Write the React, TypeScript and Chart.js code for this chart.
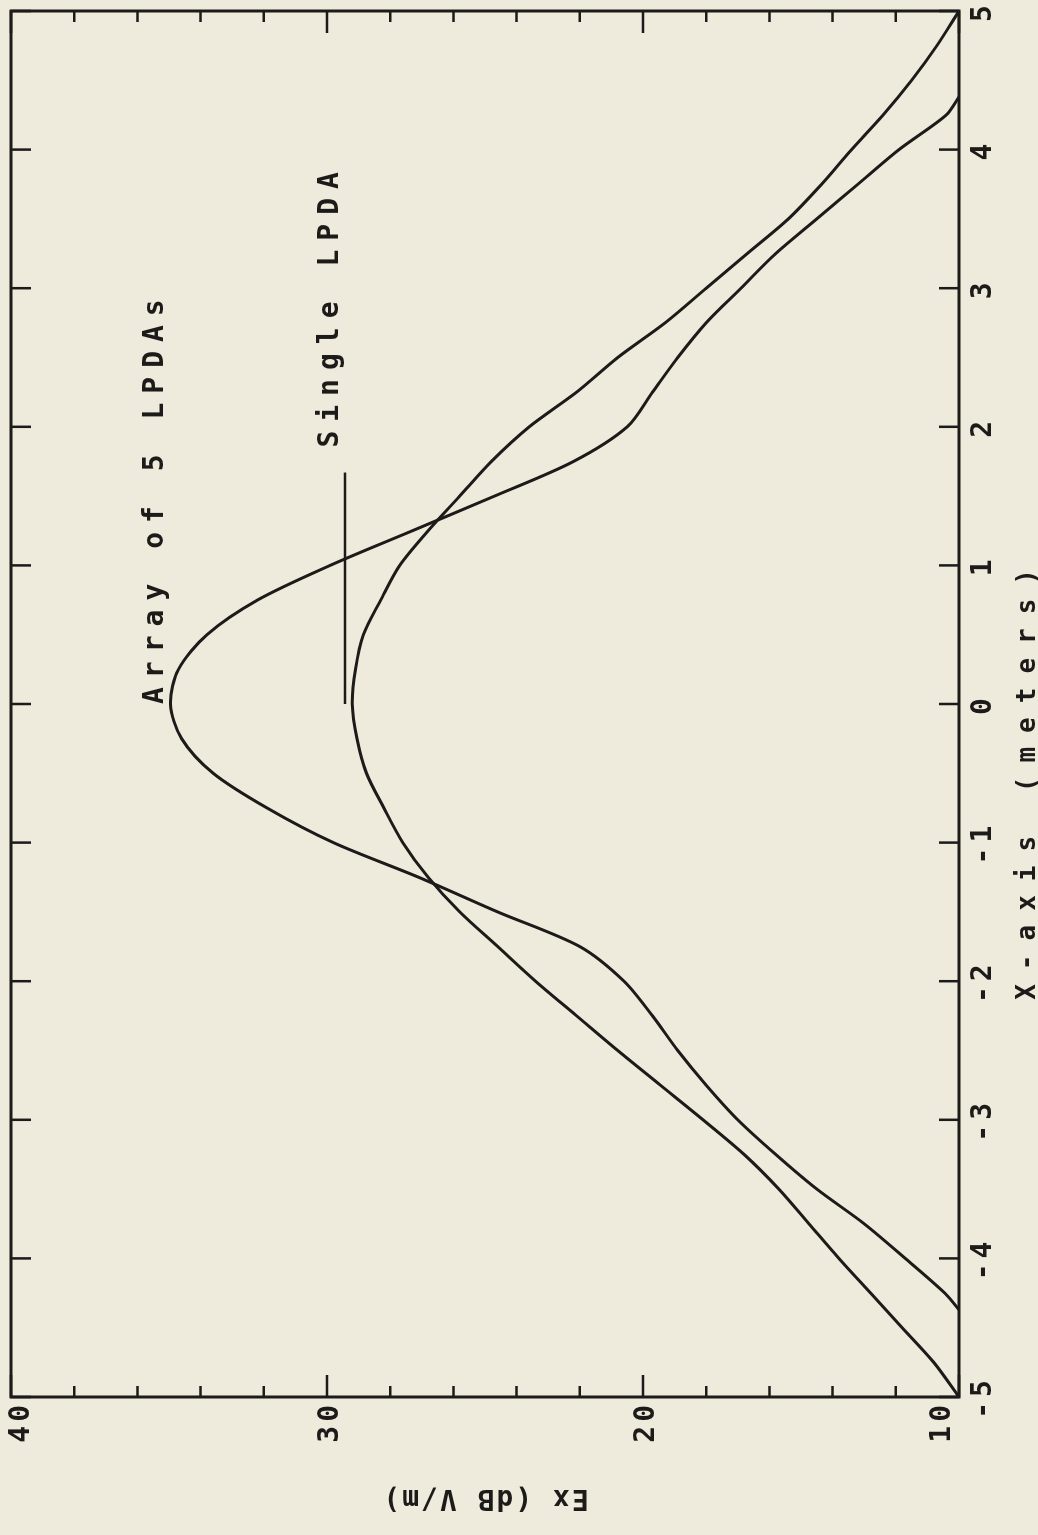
import React, { useEffect, useRef } from 'react';
import { Chart, registerables } from 'chart.js';

Chart.register(...registerables);

// ---- data (X position in metres, Ex in dB V/m) ----
const singleX = [
  -5, -4.75, -4.5, -4.25, -4, -3.75, -3.5, -3.25, -3, -2.75, -2.5, -2.25, -2, -1.75, -1.5, -1.25, -1, -0.75, -0.5, -0.25,
  0, 0.25, 0.5, 0.75, 1, 1.25, 1.5, 1.75, 2, 2.25, 2.5, 2.75, 3, 3.25, 3.5, 3.75, 4, 4.25, 4.5, 4.75, 5,
];
const singleLPDA = [
  10.0, 10.8, 11.8, 12.8, 13.8, 14.75, 15.7, 16.8, 18.1, 19.45, 20.8, 22.1, 23.4, 24.6, 25.8, 26.8, 27.6, 28.2, 28.75, 29.05,
  29.2, 29.1, 28.85, 28.3, 27.7, 26.8, 25.8, 24.8, 23.6, 22.1, 20.8, 19.3, 18.0, 16.7, 15.4, 14.35, 13.4, 12.4, 11.5, 10.7, 10.0,
];
const arrayX = [
  -4.37, -4.25, -4, -3.75, -3.5, -3.25, -3, -2.75, -2.5, -2.25, -2, -1.75, -1.5, -1.25, -1, -0.75, -0.5, -0.25,
  0, 0.25, 0.5, 0.75, 1, 1.25, 1.5, 1.75, 2, 2.25, 2.5, 2.75, 3, 3.25, 3.5, 3.75, 4, 4.25, 4.38,
];
const arrayOf5 = [
  10.0, 10.45, 11.7, 13.0, 14.5, 15.8, 17.0, 18.0, 18.9, 19.7, 20.6, 22.0, 24.6, 27.1, 29.8, 31.9, 33.6, 34.6,
  34.95, 34.7, 33.8, 32.2, 29.9, 27.3, 24.7, 22.2, 20.5, 19.7, 18.9, 18.0, 16.9, 15.8, 14.5, 13.2, 11.9, 10.4, 10.0,
];
const pointerX = [0, 1.67];
const pointerEx = [29.43, 29.43];

const xTickValues = [-5, -4, -3, -2, -1, 0, 1, 2, 3, 4, 5];
const exMajorTicks = [10, 20, 30, 40];
const exMinorTicks = [12, 14, 16, 18, 22, 24, 26, 28, 32, 34, 36, 38];

const xTitle = 'X-axis (meters)';
const yTitle = 'Ex (dB V/m)';
const labelTexts = ['Array of 5 LPDAs', 'Single LPDA'];
const labelX = [0.0, 1.85];
const labelEx = [35.2, 29.65];

// ---- style ----
const INK = '#1d1b19';
const PAPER = '#efebdc';
const FONT = '"DejaVu Sans Mono", "Liberation Mono", monospace';
const W = 1535; // unrotated width
const H = 1038; // unrotated height

const toPoints = (xs: number[], ys: number[]) => xs.map((x, i) => ({ x, y: ys[i] }));

const framePlugin = {
  id: 'frameTicks',
  beforeDraw(chart: any) {
    chart.ctx.letterSpacing = '5px';
  },
  afterDraw(chart: any) {
    const { ctx, chartArea: a, scales } = chart;
    const xs = scales.x;
    const ys = scales.y;
    ctx.save();
    ctx.letterSpacing = '0px';
    ctx.strokeStyle = INK;
    ctx.lineWidth = 3;
    ctx.strokeRect(a.left, a.top, a.right - a.left, a.bottom - a.top);
    ctx.lineWidth = 2.5;
    ctx.beginPath();
    for (const v of xTickValues) {
      const p = xs.getPixelForValue(v);
      ctx.moveTo(p, a.bottom);
      ctx.lineTo(p, a.bottom - 20);
      ctx.moveTo(p, a.top);
      ctx.lineTo(p, a.top + 20);
    }
    const exTick = (v: number, len: number) => {
      const p = ys.getPixelForValue(v);
      ctx.moveTo(a.left, p);
      ctx.lineTo(a.left + len, p);
      ctx.moveTo(a.right, p);
      ctx.lineTo(a.right - len, p);
    };
    exMajorTicks.forEach((v) => exTick(v, 22));
    exMinorTicks.forEach((v) => exTick(v, 11));
    ctx.stroke();

    ctx.fillStyle = INK;

    // Ex tick labels (kept inside the frame's extent)
    ctx.font = `bold 28px ${FONT}`;
    ctx.letterSpacing = '4px';
    ctx.textAlign = 'right';
    ctx.textBaseline = 'middle';
    exMajorTicks.forEach((v) => {
      const p = Math.min(Math.max(ys.getPixelForValue(v) + 4, a.top + 11), a.bottom - 16);
      ctx.fillText(String(v), a.left - 4, p);
    });

    // curve labels
    ctx.font = `bold 28px ${FONT}`;
    ctx.letterSpacing = '9px';
    ctx.textAlign = 'left';
    ctx.textBaseline = 'alphabetic';
    labelTexts.forEach((t, i) => {
      ctx.fillText(t, xs.getPixelForValue(labelX[i]), ys.getPixelForValue(labelEx[i]));
    });

    // x-axis title
    ctx.font = `bold 26px ${FONT}`;
    ctx.letterSpacing = '14px';
    ctx.textAlign = 'center';
    ctx.fillText(xTitle, xs.getPixelForValue(-0.58) + 7, a.bottom + 76);

    // y-axis title (rotated)
    ctx.font = `bold 28px ${FONT}`;
    ctx.letterSpacing = '2px';
    ctx.translate(45, (a.top + a.bottom) / 2);
    ctx.rotate(-Math.PI / 2);
    ctx.textAlign = 'center';
    ctx.fillText(yTitle, 0, 0);
    ctx.restore();
  },
};

export default function App() {
  const ref = useRef<HTMLCanvasElement>(null);

  useEffect(() => {
    const canvas = ref.current;
    if (!canvas) return;
    const line = (label: string, data: { x: number; y: number }[], width: number) => ({
      label,
      data,
      borderColor: INK,
      borderWidth: width,
      pointRadius: 0,
      tension: 0.3,
      fill: false,
    });
    const chart = new Chart(canvas, {
      type: 'line',
      data: {
        datasets: [
          line('Array of 5 LPDAs', toPoints(arrayX, arrayOf5), 3),
          line('Single LPDA', toPoints(singleX, singleLPDA), 3),
          { ...line('pointer', toPoints(pointerX, pointerEx), 2.5), tension: 0 },
        ],
      },
      options: {
        responsive: false,
        animation: false,
        devicePixelRatio: 1,
        layout: { padding: { top: 11, right: 11, left: 0, bottom: 0 } },
        plugins: {
          legend: { display: false },
          tooltip: { enabled: false },
          title: { display: false },
        },
        events: [],
        scales: {
          x: {
            type: 'linear',
            min: -5,
            max: 5,
            grid: { display: false, drawTicks: false },
            border: { display: false },
            ticks: {
              stepSize: 1,
              padding: 8,
              color: INK,
              font: { family: FONT, size: 28, weight: 'bold' },
            },
            afterFit: (s: any) => {
              s.height = H - 959;
              s.paddingLeft = 0;
              s.paddingRight = 0;
            },
          },
          y: {
            type: 'linear',
            min: 10,
            max: 40,
            grid: { display: false, drawTicks: false },
            border: { display: false },
            ticks: {
              stepSize: 10,
              display: false,
            },
            afterFit: (s: any) => {
              s.width = 138;
              s.paddingTop = 0;
              s.paddingBottom = 0;
            },
          },
        },
      },
      plugins: [framePlugin],
    } as any);
    return () => chart.destroy();
  }, []);

  return (
    <div
      style={{
        position: 'fixed',
        left: 0,
        top: 0,
        width: 1038,
        height: 1535,
        overflow: 'hidden',
        background: PAPER,
      }}
    >
      <div
        style={{
          position: 'absolute',
          left: 0,
          top: 0,
          width: W,
          height: H,
          transformOrigin: '0 0',
          transform: `translate(0px, ${W}px) rotate(-90deg)`,
        }}
      >
        <canvas ref={ref} width={W} height={H} style={{ display: 'block', width: W, height: H }} />
      </div>
    </div>
  );
}
